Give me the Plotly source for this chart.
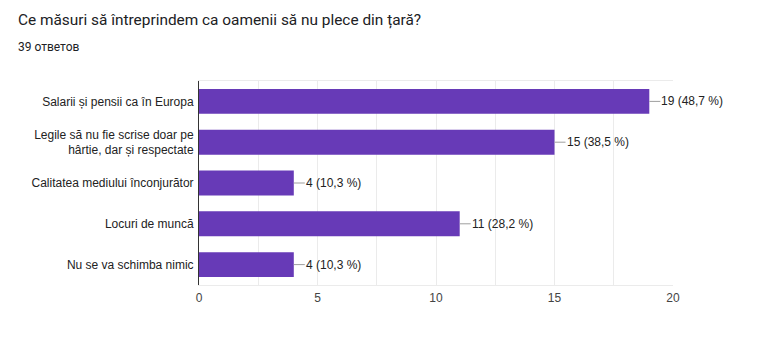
import plotly.graph_objects as go

categories = ["Salarii și pensii ca în Europa",
              "Legile să nu fie scrise doar pe<br>hârtie, dar și respectate",
              "Calitatea mediului înconjurător",
              "Locuri de muncă",
              "Nu se va schimba nimic"]
counts = [19, 15, 4, 11, 4]
percents = ["48,7", "38,5", "10,3", "28,2", "10,3"]
x_ticks = [0, 5, 10, 15, 20]

fig = go.Figure()
fig.add_trace(go.Bar(
    y=categories, x=counts, orientation="h",
    marker=dict(color="#673ab7", line=dict(width=0)),
    width=0.61, hoverinfo="skip"))

for c, v, p in zip(categories, counts, percents):
    fig.add_annotation(x=v, y=c, xref="x", yref="y",
                       text=f"{v} ({p} %)", showarrow=True, arrowhead=0,
                       arrowwidth=1, arrowcolor="#9e9e9e",
                       ax=11, ay=0, xanchor="left", standoff=0, borderpad=0,
                       font=dict(family="Arial, Liberation Sans", size=12, color="#222"))

fig.add_annotation(text="Ce măsuri să întreprindem ca oamenii să nu plece din țară?",
                   xref="paper", yref="paper", x=(16-199)/474, y=1 + (81-20)/204,
                   showarrow=False, xanchor="left", yanchor="middle",
                   font=dict(family="Roboto", size=15.4, color="#202124"))
fig.add_annotation(text="39 ответов", xref="paper", yref="paper",
                   x=(16-199)/474, y=1 + (81-47)/204, showarrow=False,
                   xanchor="left", yanchor="middle",
                   font=dict(family="Roboto", size=12, color="#202124"))

fig.update_layout(
    width=758, height=340,
    margin=dict(l=199, r=85, t=81, b=55),
    paper_bgcolor="white", plot_bgcolor="white",
    showlegend=False,
    font=dict(family="Arial, Liberation Sans", size=12, color="#222"),
    xaxis=dict(range=[0, 20], tickvals=x_ticks, showgrid=True, gridcolor="#ebebeb",
               minor=dict(dtick=2.5, showgrid=True, gridcolor="#ebebeb"),
               showline=True, linecolor="#ebebeb", mirror=True, zeroline=False,
               tickfont=dict(color="#444", size=12), ticks="", ticklen=0,
               ticklabelstandoff=2),
    yaxis=dict(autorange="reversed", showline=True, linecolor="#333", linewidth=1,
               ticks="", ticklabelstandoff=2, showgrid=False, zeroline=False,
               tickfont=dict(color="#222", size=12)),
)
fig.write_html("out.html")
